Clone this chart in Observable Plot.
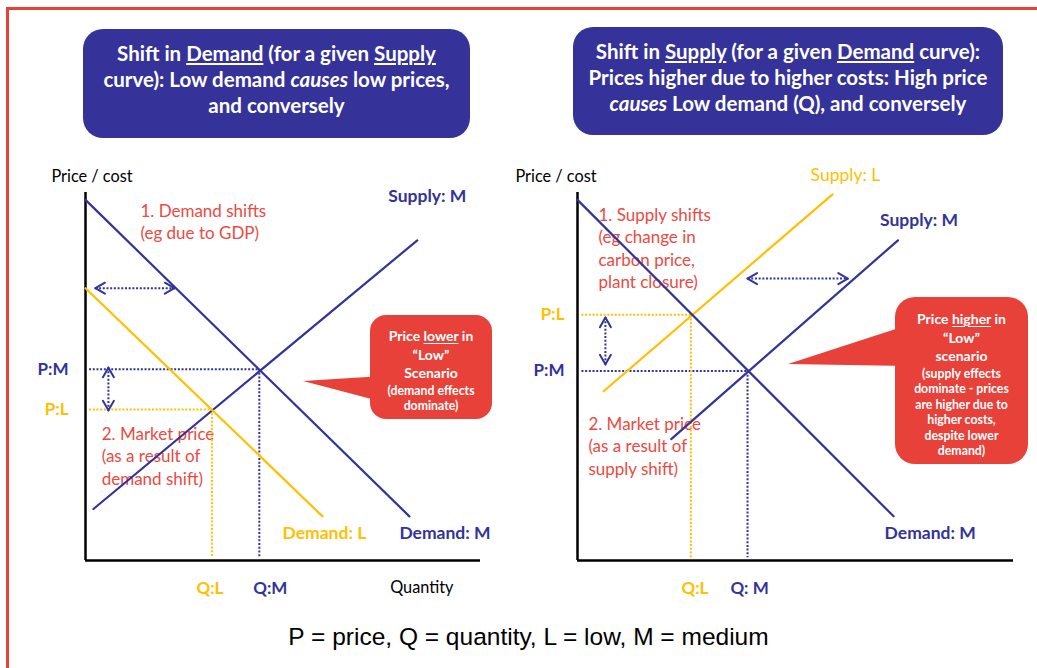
<!DOCTYPE html>
<html>
<head>
<meta charset="utf-8">
<script src="https://cdn.jsdelivr.net/npm/d3@7"></script>
<script src="https://cdn.jsdelivr.net/npm/@observablehq/plot@0.6"></script>
<style>
  body { margin: 0; background: #fff; }
  #page { position: relative; width: 1037px; height: 668px; overflow: hidden; font-family: Lato, sans-serif; background: #fff; }
  .frame { position: absolute; left: 6px; top: 7px; width: 1100px; height: 700px; border-top: 3px solid #e8413c; border-left: 3px solid #e8413c; }
  .hdr { position: absolute; background: #353399; color: #fff; border-radius: 20px; font-weight: 700; font-size: 20.5px; line-height: 26px; text-align: center; display: flex; align-items: center; justify-content: center; white-space: nowrap; }
  .hdr u { text-decoration-thickness: 1.5px; text-underline-offset: 2px; }
  .callout { position: absolute; background: #e8413a; color: #fff; font-weight: 700; text-align: center; white-space: nowrap; box-sizing: border-box; }
  .callout .big { font-size: 14px; line-height: 18.5px; }
  .callout .small { font-size: 12.3px; line-height: 15.5px; }
  .callout u { text-decoration-thickness: 1px; text-underline-offset: 2px; }
  .pointer { position: absolute; background: #e8413a; }
  .panel { position: absolute; top: 150px; }
  .caption { position: absolute; left: 10px; width: 1037px; top: 623px; text-align: center; font-family: "Liberation Sans", Arial, sans-serif; font-size: 24.5px; line-height: 28px; color: #000; }
</style>
</head>
<body>
<div id="page">
  <div class="frame"></div>

  <div class="hdr" style="left:83px;top:29px;width:387px;height:109px;">
    <div style="margin-top:-9px">Shift in <u>Demand</u> (for a given <u>Supply</u><br>curve): Low demand <i>causes</i> low prices,<br>and conversely</div>
  </div>
  <div class="hdr" style="left:573px;top:27px;width:430px;height:108px;">
    <div style="margin-top:-9px">Shift in <u>Supply</u> (for a given <u>Demand</u> curve):<br>Prices higher due to higher costs: High price<br><i>causes</i> Low demand (Q), and conversely</div>
  </div>

  <div id="left" class="panel" style="left:0px;"></div>
  <div id="right" class="panel" style="left:505px;"></div>

  <div class="pointer" style="left:303px;top:376px;width:80px;height:26px;clip-path:polygon(0 5px,80px 0,80px 26px);"></div>
  <div class="callout" style="left:370px;top:315px;width:122px;height:104px;border-radius:16px;padding-top:12px;">
    <div class="big">Price <u>lower</u> in</div>
    <div class="big">“Low”</div>
    <div class="big">Scenario</div>
    <div class="small">(demand effects</div>
    <div class="small">dominate)</div>
  </div>

  <div class="pointer" style="left:788px;top:325px;width:120px;height:41px;clip-path:polygon(0 39px,120px 0,120px 41px);"></div>
  <div class="callout" style="left:895px;top:297px;width:133px;height:167px;border-radius:20px;padding-top:13px;">
    <div class="big">Price <u>higher</u> in</div>
    <div class="big">“Low”</div>
    <div class="big">scenario</div>
    <div class="small">(supply effects</div>
    <div class="small">dominate - prices</div>
    <div class="small">are higher due to</div>
    <div class="small">higher costs,</div>
    <div class="small">despite lower</div>
    <div class="small">demand)</div>
  </div>

  <div class="caption">P = price, Q = quantity, L = low, M = medium</div>
</div>

<script>
// Both panels use quantity (x) and price (y) on 0–100 axes.

// Left panel: demand shifts along a given supply curve
const leftSupplyM = [[2, 14], [84, 87]];
const leftDemandM = [[0, 98], [82, 12]];
const leftDemandL = [[0, 74], [60, 12]];
const leftEquilibria = [
  {scenario: "M", q: 44, p: 52},
  {scenario: "L", q: 32, p: 41}
];
const leftShifts = [
  {q1: 2.5, p1: 74, q2: 22.5, p2: 74},
  {q1: 5.8, p1: 52.4, q2: 5.8, p2: 40.8}
];

// Right panel: supply shifts along a given demand curve
const rightDemandM = [[0, 98], [72.5, 12]];
const rightSupplyM = [[21.5, 33], [73.5, 87]];
const rightSupplyL = [[6, 46], [58.5, 99.5]];
const rightEquilibria = [
  {scenario: "M", q: 39, p: 51.5},
  {scenario: "L", q: 26, p: 66.8}
];
const rightShifts = [
  {q1: 39, p1: 76.6, q2: 62, p2: 76.6},
  {q1: 6.4, p1: 66, q2: 6.4, p2: 53.3}
];

const BLUE = "#333399";
const GOLD = "#ffc000";
const NOTE = "#ec4a42";
const FONT = "Lato, sans-serif";
const HEAD_LEN = 11;
const HEAD_ANGLE = Math.PI / 6;
const GUIDE_START = 0.9;

function shiftPanel(cfg) {
  const {width, height, marginLeft, marginRight, marginTop, marginBottom} = cfg;
  const kx = (width - marginLeft - marginRight) / 100;
  const ky = (height - marginTop - marginBottom) / 100;
  const pts = (pairs) => pairs.map(([q, p]) => ({q, p}));
  const colorOf = (s) => (s === "M" ? BLUE : GOLD);

  // chevron heads at both ends of each shift arrow
  const heads = cfg.shifts.flatMap((a) => {
    const out = [];
    for (const [tq, tp, fq, fp] of [[a.q2, a.p2, a.q1, a.p1], [a.q1, a.p1, a.q2, a.p2]]) {
      const vx = (tq - fq) * kx, vy = -(tp - fp) * ky;
      const len = Math.hypot(vx, vy), ux = vx / len, uy = vy / len;
      for (const s of [-1, 1]) {
        const c = Math.cos(s * HEAD_ANGLE), sn = Math.sin(s * HEAD_ANGLE);
        const bx = -(ux * c - uy * sn) * HEAD_LEN;
        const by = -(ux * sn + uy * c) * HEAD_LEN;
        out.push({x1: tq, y1: tp, x2: tq + bx / kx, y2: tp - by / ky});
      }
    }
    return out;
  });

  const curveMarks = cfg.curves.flatMap((c) => {
    const data = pts(c.points);
    const end = data[data.length - 1];
    return [
      Plot.line(data, {x: "q", y: "p", stroke: c.color, strokeWidth: 2.2}),
      Plot.text([end], {
        x: "q", y: "p", text: () => c.label, dx: c.dx, dy: c.dy,
        textAnchor: "start", fill: c.color, fontWeight: c.weight, fontSize: 17.5
      })
    ];
  });

  const qLabels = cfg.equilibria.map((d) => ({...d, label: cfg.qText[d.scenario]}));

  return Plot.plot({
    width, height, marginLeft, marginRight, marginTop, marginBottom,
    x: {domain: [0, 100], axis: null},
    y: {domain: [0, 100], axis: null},
    style: {background: "transparent", fontFamily: FONT, fontSize: "16px", overflow: "visible"},
    marks: [
      // annotations sit beneath the curves
      Plot.text(cfg.notes, {
        x: "q", y: "p", text: "text", textAnchor: "start", lineAnchor: "top",
        lineHeight: 1.32, fill: NOTE, fontSize: 17
      }),
      // axes
      Plot.ruleX([0], {y1: 0, y2: 100, stroke: "#000", strokeWidth: 2.5}),
      Plot.ruleY([0], {x1: 0, x2: 100, stroke: "#000", strokeWidth: 2.5}),
      Plot.text(["Price / cost"], {
        x: 0, y: 100, text: (d) => d, dx: cfg.priceDx, dy: -16,
        textAnchor: "start", fill: "#000", fontSize: 16.3
      }),
      ...(cfg.quantityLabel ? [Plot.text(["Quantity"], {
        x: 100, y: 0, text: (d) => d, dx: -27, dy: 27,
        textAnchor: "end", fill: "#000", fontSize: 16.3
      })] : []),
      // equilibrium guides
      Plot.link(cfg.equilibria, {
        x1: () => GUIDE_START, x2: "q", y1: "p", y2: "p",
        stroke: (d) => colorOf(d.scenario), strokeWidth: 2, strokeDasharray: "2,1.7"
      }),
      Plot.link(cfg.equilibria, {
        x1: "q", x2: "q", y1: "p", y2: () => GUIDE_START,
        stroke: (d) => colorOf(d.scenario), strokeWidth: 2, strokeDasharray: "2,1.7"
      }),
      // shift arrows
      Plot.link(cfg.shifts, {
        x1: "q1", y1: "p1", x2: "q2", y2: "p2",
        stroke: BLUE, strokeWidth: 2, strokeDasharray: "2,1.7"
      }),
      Plot.link(heads, {x1: "x1", y1: "y1", x2: "x2", y2: "y2", stroke: BLUE, strokeWidth: 2, strokeLinecap: "round"}),
      ...curveMarks,
      // price and quantity labels
      Plot.text(cfg.equilibria, {
        x: 0, y: "p", text: (d) => "P:" + d.scenario, dx: cfg.pDx, textAnchor: "end",
        fill: (d) => colorOf(d.scenario), fontWeight: 700, fontSize: 17
      }),
      Plot.text(qLabels, {
        x: (d) => d.q + cfg.qDx[d.scenario] / kx, y: 0, text: "label", dy: 28,
        fill: (d) => colorOf(d.scenario), fontWeight: 700, fontSize: 17
      })
    ]
  });
}

const left = shiftPanel({
  width: 505, height: 460, marginLeft: 85, marginRight: 25, marginTop: 42, marginBottom: 50,
  curves: [
    {points: leftSupplyM, color: BLUE, label: "Supply: M", weight: 700, dx: -29, dy: -44},
    {points: leftDemandM, color: BLUE, label: "Demand: M", weight: 700, dx: -10, dy: 17},
    {points: leftDemandL, color: GOLD, label: "Demand: L", weight: 700, dx: -40, dy: 17}
  ],
  equilibria: leftEquilibria,
  shifts: leftShifts,
  notes: [
    {q: 13.9, p: 97.7, text: "1. Demand shifts\n(eg due to GDP)"},
    {q: 4.1, p: 37.1, text: "2. Market price\n(as a result of\ndemand shift)"}
  ],
  priceDx: -34, quantityLabel: true, pDx: -17,
  qText: {M: "Q:M", L: "Q:L"}, qDx: {M: 11, L: -2}
});

const right = shiftPanel({
  width: 532, height: 460, marginLeft: 72, marginRight: 24, marginTop: 42, marginBottom: 50,
  curves: [
    {points: rightSupplyL, color: GOLD, label: "Supply: L", weight: 400, dx: -22, dy: -19},
    {points: rightSupplyM, color: BLUE, label: "Supply: M", weight: 700, dx: -18, dy: -20},
    {points: rightDemandM, color: BLUE, label: "Demand: M", weight: 700, dx: -9, dy: 17}
  ],
  equilibria: rightEquilibria,
  shifts: rightShifts,
  notes: [
    {q: 4.8, p: 96.6, text: "1. Supply shifts\n(eg change in\ncarbon price,\nplant closure)"},
    {q: 2.5, p: 39.8, text: "2. Market price\n(as a result of\nsupply shift)"}
  ],
  priceDx: -62, quantityLabel: false, pDx: -13,
  qText: {M: "Q: M", L: "Q:L"}, qDx: {M: 2, L: 4}
});

document.getElementById("left").append(left);
document.getElementById("right").append(right);
</script>
</body>
</html>
